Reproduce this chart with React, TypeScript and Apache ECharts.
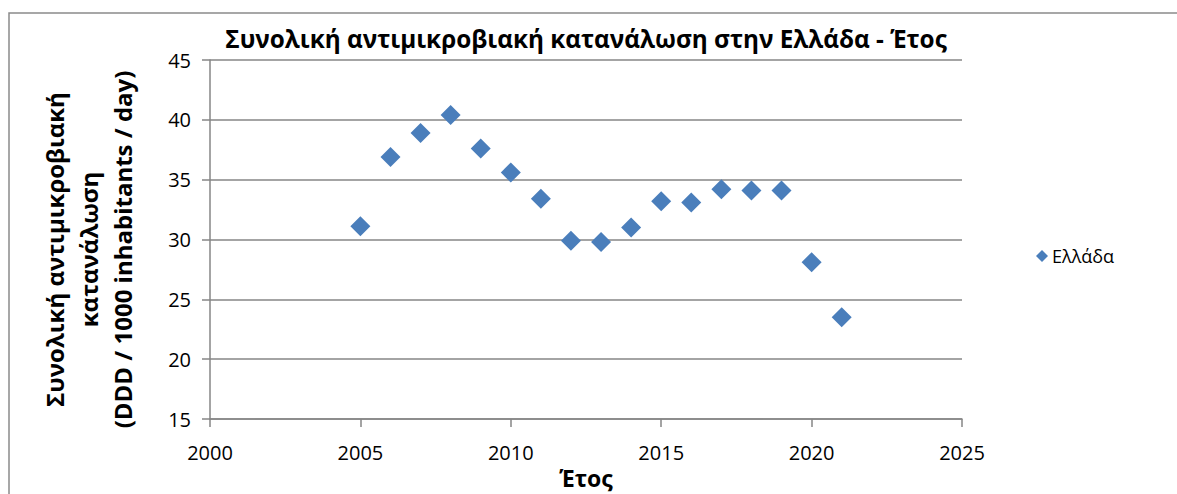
import React, { useEffect, useRef } from "react";
import * as echarts from "echarts";

const years = [2005, 2006, 2007, 2008, 2009, 2010, 2011, 2012, 2013, 2014, 2015, 2016, 2017, 2018, 2019, 2020, 2021];
const values = [31.1, 36.9, 38.9, 40.4, 37.6, 35.6, 33.4, 29.9, 29.8, 31.0, 33.2, 33.1, 34.2, 34.1, 34.1, 28.1, 23.5];
const seriesName = "Ελλάδα";
const titleText = "Συνολική αντιμικροβιακή κατανάλωση στην Ελλάδα - Έτος";
const yAxisName = "Συνολική αντιμικροβιακή\nκατανάλωση\n(DDD / 1000 inhabitants / day)";
const xAxisName = "Έτος";

const FONT = "'Open Sans', 'Noto Sans', sans-serif";

export default function App() {
  const ref = useRef<HTMLDivElement>(null);
  useEffect(() => {
    if (!ref.current) return;
    const chart = echarts.init(ref.current, null, { renderer: "svg" });
    chart.setOption({
      animation: false,
      backgroundColor: "#ffffff",
      textStyle: { fontFamily: FONT },
      title: {
        text: titleText,
        left: 581,
        top: 21,
        textAlign: "center",
        textStyle: { fontFamily: FONT, fontSize: 24.3, fontWeight: "bold", color: "#000" },
      },
      legend: {
        data: [{ name: seriesName, icon: "diamond" }],
        orient: "vertical",
        left: 1031,
        top: 242,
        itemWidth: 12,
        itemHeight: 12,
        itemGap: 4,
        textStyle: { fontFamily: FONT, fontSize: 18, color: "#000", padding: [0, 0, 0, -1] },
      },
      graphic: [
        {
          type: "rect",
          shape: { x: 9, y: 13, width: 1200, height: 600 },
          style: { fill: "none", stroke: "#8a8a8a", lineWidth: 1.5 },
          silent: true,
        },
      ],
      grid: { left: 210, right: 215, top: 60, bottom: 75, containLabel: false, outerBoundsMode: "none" },
      xAxis: {
        type: "value",
        min: 2000,
        max: 2025,
        interval: 5,
        name: xAxisName,
        nameLocation: "middle",
        nameGap: 45,
        nameTextStyle: { fontFamily: FONT, fontSize: 23, fontWeight: "bold", color: "#000" },
        axisLine: { show: true, lineStyle: { color: "#868686", width: 1.5 } },
        axisTick: { show: true, inside: false, length: 8, lineStyle: { color: "#868686", width: 1.5 } },
        axisLabel: { fontFamily: FONT, fontSize: 20, color: "#000", margin: 23, formatter: (v: number) => String(v) },
        splitLine: { show: false },
      },
      yAxis: {
        type: "value",
        min: 15,
        max: 45,
        interval: 5,
        name: yAxisName,
        nameLocation: "middle",
        nameRotate: 90,
        nameGap: 71,
        nameTextStyle: {
          fontFamily: FONT,
          fontSize: 24,
          fontWeight: "bold",
          color: "#000",
          lineHeight: 34,
          align: "center",
          padding: [0, 20, 0, 0],
        },
        axisLine: { show: true, lineStyle: { color: "#868686", width: 1.5 } },
        axisTick: { show: true, inside: false, length: 8, lineStyle: { color: "#868686", width: 1.5 } },
        axisLabel: { fontFamily: FONT, fontSize: 20, color: "#000", margin: 19 },
        splitLine: { show: true, lineStyle: { color: "#868686", width: 1.5 } },
      },
      series: [
        {
          name: seriesName,
          type: "scatter",
          symbol: "diamond",
          symbolSize: 20,
          itemStyle: { color: "#4a7ebb", opacity: 1 },
          data: years.map((y, i) => [y, values[i]]),
        },
      ],
    });
    return () => chart.dispose();
  }, []);
  return <div ref={ref} style={{ position: "absolute", left: 0, top: 0, width: 1177, height: 494 }} />;
}
